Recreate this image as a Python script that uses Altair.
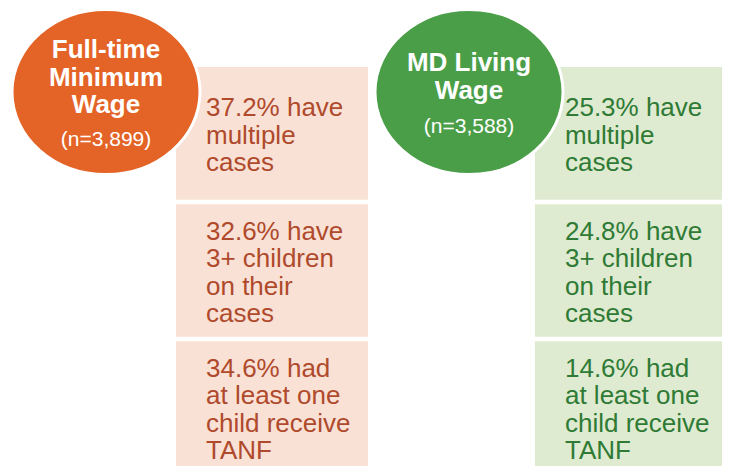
import altair as alt
import pandas as pd

# ---- data ----
groups = ["Full-time Minimum Wage", "MD Living Wage"]
title_lines = [["Full-time", "Minimum", "Wage"], ["MD Living", "Wage"]]
sample_sizes = [3899, 3588]
row_ids = ["multiple_cases", "three_plus_children", "tanf"]
row_templates = [
    "{}% have\nmultiple\ncases",
    "{}% have\n3+ children\non their\ncases",
    "{}% had\nat least one\nchild receive\nTANF",
]
pct_minimum = [37.2, 32.6, 34.6]
pct_living = [25.3, 24.8, 14.6]

# ---- style ----
circle_colors = ["#E46326", "#4B9E48"]
box_colors = ["#FAE1D5", "#DEEBD0"]
text_colors = ["#AF4A2C", "#2F7A35"]
FONT = "Liberation Sans"
LH = 27.5

# ---- tables ----
box_rows = []
for g, vals in zip(groups, [pct_minimum, pct_living]):
    for rid, tmpl, v in zip(row_ids, row_templates, vals):
        lab = tmpl.format(v)
        box_rows.append({"group": g, "row": rid, "label": lab,
                         "nlines": lab.count("\n") + 1})
boxes = pd.DataFrame(box_rows)

heads = pd.DataFrame({
    "group": groups,
    "title": ["\n".join(t) for t in title_lines],
    "nlines": [len(t) for t in title_lines],
    "ntext": ["(n={:,})".format(n) for n in sample_sizes],
})

def xband(pos=None):
    kw = {} if pos is None else {"bandPosition": pos}
    return alt.X("group:N", axis=None,
                 scale=alt.Scale(type="band", domain=groups, range=[168, 719],
                                 paddingInner=0.465, paddingOuter=0), **kw)

def yband(pos=None):
    kw = {} if pos is None else {"bandPosition": pos}
    return alt.Y("row:N", axis=None,
                 scale=alt.Scale(type="band", domain=row_ids, range=[59, 466],
                                 paddingInner=0.033, paddingOuter=0), **kw)

rects = alt.Chart(boxes).mark_rect().encode(
    x=xband(), y=yband(),
    color=alt.Color("group:N", legend=None,
                    scale=alt.Scale(domain=groups, range=box_colors)),
)

# multi-line labels: first line shifted up so the block is centred in its box
def label_layer(n):
    return alt.Chart(boxes).transform_filter(
        alt.datum.nlines == n
    ).mark_text(
        align="left", baseline="middle", dx=30, dy=-(n - 1) / 2 * LH + 2.5,
        fontSize=26, font=FONT, lineBreak="\n", lineHeight=LH,
    ).encode(
        x=xband(0), y=yband(0.5),
        text="label:N",
        color=alt.Color("group:N", legend=None,
                        scale=alt.Scale(domain=groups, range=text_colors)),
    )

box_text3 = label_layer(3)
box_text4 = label_layer(4)

x_point = alt.X("group:N", axis=None,
                scale=alt.Scale(type="point", domain=groups, range=[98, 461], padding=0))

ellipse = "M -1 0 A 1 0.878 0 1 1 1 0 A 1 0.878 0 1 1 -1 0 Z"
circles = alt.Chart(heads).mark_point(
    shape=ellipse, size=35344, filled=True, opacity=1,
    stroke="white", strokeWidth=3, strokeOpacity=1,
).encode(
    x=x_point, y=alt.value(84),
    fill=alt.Fill("group:N", legend=None,
                  scale=alt.Scale(domain=groups, range=circle_colors)),
)

titles = alt.Chart(heads).mark_text(
    align="center", baseline="middle", fontSize=26, fontWeight="bold",
    font=FONT, lineBreak="\n", lineHeight=LH, color="white",
).encode(
    x=x_point,
    y=alt.Y("nlines:Q", axis=None, scale=alt.Scale(domain=[2, 3], range=[55, 42])),
    text="title:N",
)

ntexts = alt.Chart(heads).mark_text(
    align="center", baseline="middle", fontSize=21, font=FONT, color="white",
).encode(
    x=x_point,
    y=alt.Y("nlines:Q", axis=None, scale=alt.Scale(domain=[2, 3], range=[119, 132])),
    text="ntext:N",
)

chart = alt.layer(rects, box_text3, box_text4, circles, titles, ntexts).resolve_scale(
    x="independent", y="independent", color="independent", fill="independent"
).properties(
    width=714, height=458, padding=0, autosize=alt.AutoSizeParams(type="none"),
    background="white",
).configure_view(stroke=None)

chart.save("out.html", embed_options={"renderer": "svg", "actions": False})
